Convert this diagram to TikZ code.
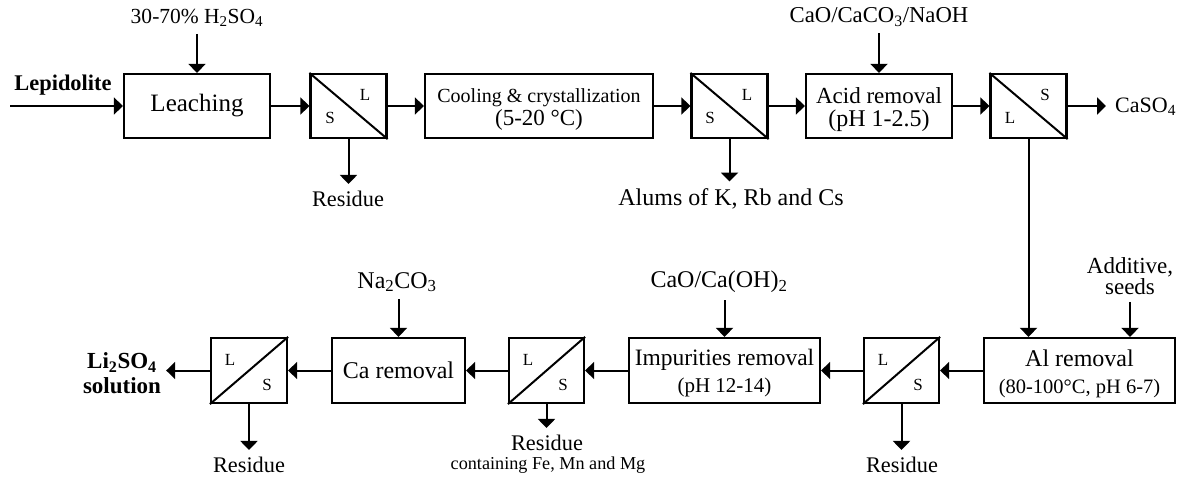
\documentclass[tikz,border=0pt]{standalone}
\usepackage{fontspec}
\setmainfont{Liberation Serif}
\usetikzlibrary{arrows.meta}
\newcommand\myfs[2]{\fontsize{#1}{#2}\selectfont}
\tikzset{
  ln/.style={line width=2pt},
  arr/.style={line width=2pt, -{Triangle[width=17pt,length=9pt]}},
  box/.style={draw, line width=2.2pt, rectangle, inner sep=0pt, align=center, font=\myfs{23}{23}},
  sepbox/.style={draw, line width=2.2pt, rectangle, minimum width=76pt, minimum height=64pt, inner sep=0pt},
  txt/.style={inner sep=0pt, align=center},
  lab/.style={inner sep=0pt, align=center, font=\myfs{23}{23}},
  sl/.style={inner sep=0pt, font=\myfs{17}{19}},
  fromlab/.style={shorten <=7pt},
  tolab/.style={shorten >=7pt},
}
\begin{document}
\begin{tikzpicture}[x=1pt,y=-1pt]
\useasboundingbox (0,0) rectangle (1190,479);
% ---------- top row ----------
\node[box, minimum width=146pt, minimum height=64pt, font=\myfs{25}{28}] (leach) at (197,106) {Leaching};
\node[sepbox] (s1) at (348.5,106) {};
\node[box, minimum width=228pt, minimum height=64pt] (cool) at (539,106) {};
\node[txt, font=\myfs{20}{23}] (coolt) at (539,109.5) {Cooling \& crystallization\\{\myfs{23}{23}(5-20 °C)}};
\node[sepbox] (s2) at (729.5,106) {};
\node[box, minimum width=146pt, minimum height=64pt] (acid) at (879,106) {};
\node[txt, font=\myfs{23}{23}] (acidt) at (879,109.5) {Acid removal\\{\myfs{24}{23}(pH 1-2.5)}};
\node[sepbox] (s3) at (1028.5,106) {};
% ---------- bottom row ----------
\node[box, minimum width=191pt, minimum height=65pt] (al) at (1079.5,370.5) {};
\node[txt, font=\myfs{24}{27}] (alt) at (1079.5,373.5) {Al removal\\{\myfs{20.5}{27}(80-100°C, pH 6-7)}};
\node[sepbox, minimum width=75pt, minimum height=65pt] (s4) at (901.5,370.5) {};
\node[box, minimum width=191pt, minimum height=65pt] (imp) at (724.5,370.5) {};
\node[txt, font=\myfs{23.5}{27}] (impt) at (724.5,373.5) {Impurities removal\\{\myfs{21}{27}(pH 12-14)}};
\node[sepbox, minimum width=75pt, minimum height=65pt] (s5) at (546.5,370.5) {};
\node[box, minimum width=133pt, minimum height=65pt, font=\myfs{24}{27}] (ca) at (398.5,370.5) {Ca removal};
\node[sepbox, minimum width=76pt, minimum height=65pt] (s6) at (249,370.5) {};
% ---------- separator diagonals and letters ----------
\draw[ln] (s1.north west) -- (s1.south east);
\draw[ln] (s2.north west) -- (s2.south east);
\draw[ln] (s3.north west) -- (s3.south east);
\draw[ln] (s4.south west) -- (s4.north east);
\draw[ln] (s5.south west) -- (s5.north east);
\draw[ln] (s6.south west) -- (s6.north east);
\node[sl] (s1L) at (365,95) {L};
\node[sl] (s1S) at (330,118) {S};
\node[sl] (s2L) at (747,95) {L};
\node[sl] (s2S) at (710,118) {S};
\node[sl] (s3S) at (1045,95) {S};
\node[sl] (s3L) at (1010,118) {L};
\node[sl] (s4L) at (883,360) {L};
\node[sl] (s4S) at (918,385) {S};
\node[sl] (s5L) at (528,360) {L};
\node[sl] (s5S) at (563,385) {S};
\node[sl] (s6L) at (230,360) {L};
\node[sl] (s6S) at (267,385) {S};
% ---------- labels ----------
\coordinate (lepin) at (10,106);
\node[lab, font=\myfs{22.4}{24}\bfseries] (lep) at (63,85) {Lepidolite};
\node[lab, font=\myfs{21.5}{23}] (h2so4) at (197,18) {30-70\% H\textsubscript{2}SO\textsubscript{4}};
\node[lab, font=\myfs{22.3}{23}] (res1) at (348,199) {Residue};
\node[lab, font=\myfs{24}{24}] (alums) at (731,199) {Alums of K, Rb and Cs};
\node[lab, font=\myfs{22.7}{23}] (cao1) at (879,17) {CaO/CaCO\textsubscript{3}/NaOH};
\node[lab, font=\myfs{22}{23}, anchor=west] (caso4) at (1115,107) {CaSO\textsubscript{4}};
\node[lab, font=\myfs{23}{21}] (add) at (1130,276) {Additive,\\seeds};
\node[lab, font=\myfs{22.3}{23}] (res4) at (902,465) {Residue};
\node[lab, font=\myfs{24}{24}] (cao2) at (719,282) {CaO/Ca(OH)\textsubscript{2}};
\node[lab, font=\myfs{22.3}{23}] (res5) at (547,443) {Residue};
\node[lab, font=\myfs{18.2}{20}] (cont) at (548,465) {containing Fe, Mn and Mg};
\node[lab, font=\myfs{24}{24}] (na) at (397,282) {Na\textsubscript{2}CO\textsubscript{3}};
\node[lab, font=\myfs{23}{25}\bfseries] (li) at (122,373) {Li\textsubscript{2}SO\textsubscript{4}\\solution};
\node[lab, font=\myfs{22.3}{23}] (res6) at (249,465) {Residue};
% ---------- connectors top ----------
\draw[arr] (lepin) -- (leach.west);
\draw[arr, fromlab] (leach.north |- h2so4.south) -- (leach.north);
\draw[arr] (leach.east) -- (s1.west);
\draw[arr, tolab] (s1.south) -- (s1.south |- res1.north);
\draw[arr] (s1.east) -- (cool.west);
\draw[arr] (cool.east) -- (s2.west);
\draw[arr, tolab] (s2.south) -- (s2.south |- alums.north);
\draw[arr] (s2.east) -- (acid.west);
\draw[arr, fromlab] (acid.north |- cao1.south) -- (acid.north);
\draw[arr] (acid.east) -- (s3.west);
\draw[arr, shorten >=9pt] (s3.east) -- (s3.east -| caso4.west);
\draw[arr] (s3.south) -- (s3.south |- al.north);
% ---------- connectors bottom ----------
\draw[arr, fromlab] (add.south) -- (add.south |- al.north);
\draw[arr] (al.west) -- (s4.east);
\draw[arr, tolab] (s4.south) -- (s4.south |- res4.north);
\draw[arr] (s4.west) -- (imp.east);
\draw[arr, fromlab] (imp.north |- cao2.south) -- (imp.north);
\draw[arr] (imp.west) -- (s5.east);
\draw[arr, tolab] (s5.south) -- (s5.south |- res5.north);
\draw[arr] (s5.west) -- (ca.east);
\draw[arr, fromlab] (ca.north |- na.south) -- (ca.north);
\draw[arr] (ca.west) -- (s6.east);
\draw[arr, shorten >=5pt] (s6.west) -- (s6.west -| li.east);
\draw[arr, tolab] (s6.south) -- (s6.south |- res6.north);
\end{tikzpicture}
\end{document}
